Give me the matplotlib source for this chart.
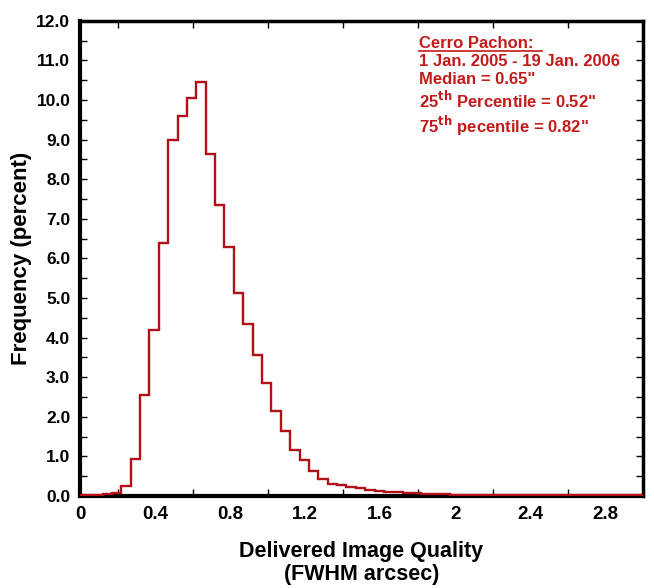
import numpy as np
import matplotlib
matplotlib.use("Agg")
import matplotlib.pyplot as plt
from matplotlib.ticker import MultipleLocator

# bin edges: first bin 0 - 0.02, then 0.05 wide bins up to 3.02
bin_edges = np.concatenate([[0.0], np.round(np.arange(0.02, 3.03, 0.05), 2)])

# frequency (percent) per bin
freq = [0.03, 0.03, 0.03, 0.04, 0.08, 0.26, 0.93, 2.55, 4.19, 6.38,
        8.99, 9.60, 10.06, 10.46, 8.63, 7.35, 6.29, 5.12, 4.34, 3.56,
        2.86, 2.15, 1.63, 1.15, 0.91, 0.64, 0.44, 0.31, 0.27, 0.23,
        0.19, 0.15, 0.12, 0.11, 0.10, 0.08, 0.08, 0.06, 0.05, 0.05,
        0.02, 0.02, 0.02, 0.02, 0.02, 0.02, 0.02, 0.02, 0.02, 0.02,
        0.02, 0.02, 0.02, 0.02, 0.02, 0.02, 0.02, 0.02, 0.02, 0.02,
        0.02]

x_ticks = [0, 0.4, 0.8, 1.2, 1.6, 2.0, 2.4, 2.8]
x_ticklabels = ["0", "0.4", "0.8", "1.2", "1.6", "2", "2.4", "2.8"]
y_ticks = [0, 1, 2, 3, 4, 5, 6, 7, 8, 9, 10, 11, 12]

note_title = "Cerro Pachon:"
note_lines = ["1 Jan. 2005 - 19 Jan. 2006", 'Median = 0.65"',
              r'25$^{\mathbf{th}}$ Percentile = 0.52"',
              r'75$^{\mathbf{th}}$ pecentile = 0.82"']
note_y = [0.9047, 0.8668, 0.8163, 0.7637]

arial = ["Liberation Sans", "DejaVu Sans"]
red = "#c41a1a"

fig = plt.figure(figsize=(6.54, 5.88), dpi=100)
ax = fig.add_axes([0.1223, 0.1565, 0.8607, 0.8083])

ax.stairs(freq, bin_edges, color="#b01018", linewidth=1.7, zorder=3)

ax.set_xlim(0, 3.0)
ax.set_ylim(0, 12)
ax.set_xticks(x_ticks)
ax.set_xticklabels(x_ticklabels, family=arial, fontweight="bold", fontsize=13.5)
ax.xaxis.set_minor_locator(MultipleLocator(0.2))
ax.set_yticks(y_ticks)
ax.set_yticklabels([f"{v:.1f}" for v in y_ticks], family=arial, fontweight="bold", fontsize=12.5)
ax.yaxis.set_minor_locator(MultipleLocator(0.5))
ax.tick_params(which="both", direction="in", top=True, right=True, width=1.0, color="black")
ax.tick_params(which="major", length=5, pad=7)
ax.tick_params(which="minor", length=5)
ax.tick_params(axis="x", which="major", length=0)

for s in ax.spines.values():
    s.set_linewidth(2.5)
ax.spines["left"].set_linewidth(3)
ax.spines["bottom"].set_linewidth(3)

ax.set_xlabel("Delivered Image Quality\n(FWHM arcsec)", family=arial, fontweight="bold",
              fontsize=15.5, labelpad=13, linespacing=1.15)
ax.set_ylabel("Frequency (percent)", family=arial, fontweight="bold", fontsize=16, labelpad=3)

tx = 0.602
ax.text(tx, 0.9426, note_title, transform=ax.transAxes, color=red, family=arial,
        fontweight="bold", fontsize=12, va="baseline")
ax.plot([tx, tx + 0.218], [0.936, 0.936], transform=ax.transAxes, color=red, linewidth=1.2)
for line, y in zip(note_lines, note_y):
    ax.text(tx, y, line, transform=ax.transAxes, color=red, family=arial,
            fontweight="bold", fontsize=12, va="baseline")

fig.savefig("out.png", dpi=100)
